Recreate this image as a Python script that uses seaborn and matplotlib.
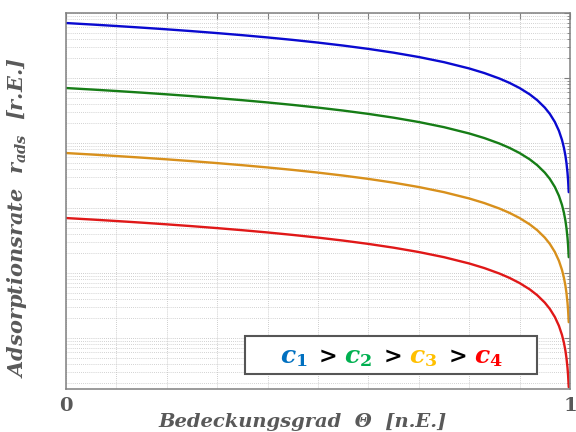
import numpy as np
import pandas as pd
import matplotlib
matplotlib.use("Agg")
import matplotlib.pyplot as plt
import seaborn as sns
from matplotlib.patches import Rectangle
from matplotlib.offsetbox import TextArea, HPacker, AnchoredOffsetbox
from matplotlib.ticker import FixedLocator, FixedFormatter, LogLocator, NullFormatter

# ---- data ----
theta = [0.0, 0.05, 0.1, 0.15, 0.2, 0.25, 0.3, 0.35, 0.4, 0.45, 0.5, 0.55, 0.6, 0.65,
         0.7, 0.75, 0.8, 0.83, 0.86, 0.88, 0.9, 0.92, 0.935, 0.95, 0.96, 0.97, 0.978,
         0.984, 0.988, 0.991, 0.993, 0.995, 0.9962, 0.9975]
r_c1 = [7.0e-1, 6.65e-1, 6.3e-1, 5.95e-1, 5.6e-1, 5.25e-1, 4.9e-1, 4.55e-1, 4.2e-1, 3.85e-1,
        3.5e-1, 3.15e-1, 2.8e-1, 2.45e-1, 2.1e-1, 1.75e-1, 1.4e-1, 1.19e-1, 9.8e-2, 8.4e-2,
        7.0e-2, 5.6e-2, 4.55e-2, 3.5e-2, 2.8e-2, 2.1e-2, 1.54e-2, 1.12e-2, 8.4e-3, 6.3e-3,
        4.9e-3, 3.5e-3, 2.66e-3, 1.75e-3]
r_c2 = [7.0e-2, 6.65e-2, 6.3e-2, 5.95e-2, 5.6e-2, 5.25e-2, 4.9e-2, 4.55e-2, 4.2e-2, 3.85e-2,
        3.5e-2, 3.15e-2, 2.8e-2, 2.45e-2, 2.1e-2, 1.75e-2, 1.4e-2, 1.19e-2, 9.8e-3, 8.4e-3,
        7.0e-3, 5.6e-3, 4.55e-3, 3.5e-3, 2.8e-3, 2.1e-3, 1.54e-3, 1.12e-3, 8.4e-4, 6.3e-4,
        4.9e-4, 3.5e-4, 2.66e-4, 1.75e-4]
r_c3 = [7.0e-3, 6.65e-3, 6.3e-3, 5.95e-3, 5.6e-3, 5.25e-3, 4.9e-3, 4.55e-3, 4.2e-3, 3.85e-3,
        3.5e-3, 3.15e-3, 2.8e-3, 2.45e-3, 2.1e-3, 1.75e-3, 1.4e-3, 1.19e-3, 9.8e-4, 8.4e-4,
        7.0e-4, 5.6e-4, 4.55e-4, 3.5e-4, 2.8e-4, 2.1e-4, 1.54e-4, 1.12e-4, 8.4e-5, 6.3e-5,
        4.9e-5, 3.5e-5, 2.66e-5, 1.75e-5]
r_c4 = [7.0e-4, 6.65e-4, 6.3e-4, 5.95e-4, 5.6e-4, 5.25e-4, 4.9e-4, 4.55e-4, 4.2e-4, 3.85e-4,
        3.5e-4, 3.15e-4, 2.8e-4, 2.45e-4, 2.1e-4, 1.75e-4, 1.4e-4, 1.19e-4, 9.8e-5, 8.4e-5,
        7.0e-5, 5.6e-5, 4.55e-5, 3.5e-5, 2.8e-5, 2.1e-5, 1.54e-5, 1.12e-5, 8.4e-6, 6.3e-6,
        4.9e-6, 3.5e-6, 2.66e-6, 1.75e-6]
series_names = ["c1", "c2", "c3", "c4"]
x_ticklabels = ["0", "1"]
line_colors = ["#0a0ad0", "#167d16", "#d8901c", "#e01818"]
legend_colors = ["#0070C0", "#00B050", "#FFC000", "#FF0000"]

# ---- style ----
sns.set_style("white")
plt.rcParams["font.family"] = ["DejaVu Serif", "DejaVu Sans"]
plt.rcParams["mathtext.fontset"] = "custom"
plt.rcParams["mathtext.it"] = "DejaVu Serif:bold:italic"
plt.rcParams["mathtext.rm"] = "DejaVu Serif:bold"
plt.rcParams["mathtext.bf"] = "DejaVu Serif:bold"

df = pd.concat([
    pd.DataFrame({"theta": theta, "r": vals, "c": name})
    for name, vals in zip(series_names, [r_c1, r_c2, r_c3, r_c4])
])

fig = plt.figure(figsize=(5.76, 4.32), dpi=100)
ax = fig.add_axes([0.1146, 0.0995, 0.875, 0.8705])

sns.lineplot(data=df, x="theta", y="r", hue="c", palette=line_colors,
             linewidth=1.7, legend=False, ax=ax, sort=False)

ax.set_yscale("log")
ax.set_xlim(0, 1)
ax.set_ylim(10 ** -5.785, 1.0)

# ticks
ax.xaxis.set_major_locator(FixedLocator(np.arange(0, 1.0001, 0.1)))
ax.xaxis.set_major_formatter(FixedFormatter(
    [x_ticklabels[0]] + [""] * 9 + [x_ticklabels[1]]))
ax.yaxis.set_major_locator(LogLocator(base=10, numticks=20))
ax.yaxis.set_minor_locator(LogLocator(base=10, subs=np.arange(2, 10), numticks=20))
ax.yaxis.set_major_formatter(NullFormatter())
ax.yaxis.set_minor_formatter(NullFormatter())
ax.tick_params(axis="both", which="both", direction="in", top=True, right=True,
               color="#808080")
ax.tick_params(axis="both", which="major", length=4, width=0.8)
ax.tick_params(axis="y", which="minor", length=2, width=0.6)
ax.tick_params(axis="x", which="major", labelsize=14, labelcolor="#595959", pad=6)
for lab in ax.get_xticklabels():
    lab.set_fontweight("bold")

ax.grid(True, which="major", axis="both", linestyle=(0, (1, 1.5)), color="#bdbdbd", linewidth=0.6)
ax.grid(True, which="minor", axis="y", linestyle=(0, (1, 1.5)), color="#c4c4c4", linewidth=0.6)
for s in ax.spines.values():
    s.set_color("#808080")
    s.set_linewidth(1.1)

ax.set_xlabel("Bedeckungsgrad  Θ  [n.E.]", fontsize=14, fontstyle="italic",
              fontweight="bold", color="#595959")
ax.set_ylabel(r"Adsorptionsrate  $r_{ads}$  [r.E.]", fontsize=15, fontstyle="italic",
              fontweight="bold", color="#595959")
ax.xaxis.set_label_coords(0.47, -0.063)
ax.yaxis.set_label_coords(-0.074, 0.455)

# legend box
box = Rectangle((0.355, 0.040), 0.58, 0.101, transform=ax.transAxes,
                facecolor="white", edgecolor="#555555", linewidth=1.5, zorder=5)
ax.add_patch(box)
parts = []
for i, (name, col) in enumerate(zip(series_names, legend_colors)):
    parts.append(TextArea(r"$c_{%s}$" % name[1:], textprops=dict(color=col, fontsize=18)))
    if i < 3:
        parts.append(TextArea(r"$>$", textprops=dict(color="black", fontsize=16)))
pack = HPacker(children=parts, align="baseline", pad=0, sep=5)
anch = AnchoredOffsetbox(loc="center", child=pack, frameon=False,
                         bbox_to_anchor=(0.645, 0.085), bbox_transform=ax.transAxes,
                         borderpad=0, pad=0)
anch.set_zorder(6)
ax.add_artist(anch)

fig.savefig("out.png", dpi=100)
